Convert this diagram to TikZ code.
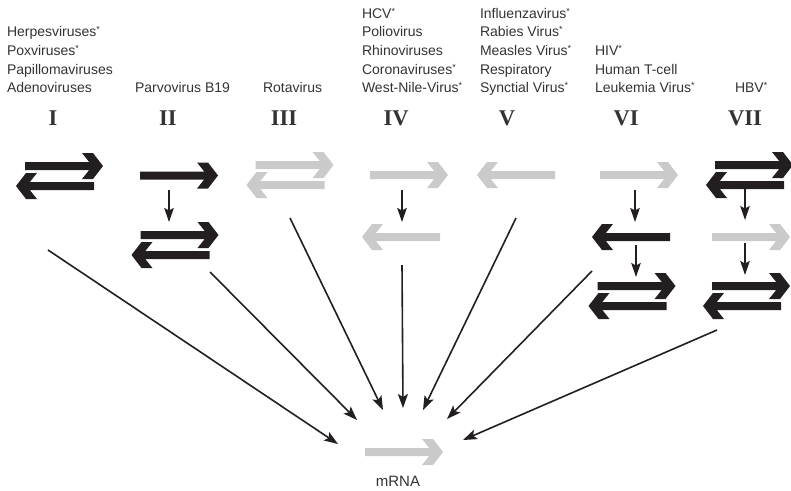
\documentclass[tikz,border=0pt]{standalone}
\usepackage{fontspec}
\setmainfont{Liberation Sans}
\newfontfamily\numfont{Liberation Serif}
\usetikzlibrary{arrows.meta}
\definecolor{blk}{HTML}{231F20}
\definecolor{gry}{HTML}{CACACA}
\definecolor{txt}{HTML}{333333}
\newcommand\vstar{\raisebox{4pt}{\fontsize{9}{9}\selectfont *}}
\tikzset{
  bigarr/.pic={\fill[pic actions] (39,0) -- (29,-13) -- (18,-13) -- (25.2,-4) -- (-39,-4) -- (-39,4) -- (25.2,4) -- (18,13) -- (29,13) -- cycle;},
  dblarr/.pic={
    \fill[pic actions, shift={(4.5,-10)}] (39,0) -- (29,-13) -- (18,-13) -- (25.2,-4) -- (-39,-4) -- (-39,4) -- (25.2,4) -- (18,13) -- (29,13) -- cycle;
    \fill[pic actions, shift={(-4.5,10)}, xscale=-1] (39,0) -- (29,-13) -- (18,-13) -- (25.2,-4) -- (-39,-4) -- (-39,4) -- (25.2,4) -- (18,13) -- (29,13) -- cycle;},
  elem/.style={inner sep=0pt, outer sep=0pt, minimum width=78pt, minimum height=26pt},
  delem/.style={inner sep=0pt, outer sep=0pt, minimum width=87pt, minimum height=46pt},
  lab/.style={inner sep=0pt, outer sep=0pt, anchor=base west, align=left, text=txt,
    font=\fontsize{14}{18.67}\selectfont},
  num/.style={inner sep=0pt, anchor=base, text=txt, font=\numfont\bfseries\fontsize{22.5}{22.5}\selectfont},
  dn/.style={draw=blk, line width=1.5pt, -{Stealth[length=14pt,width=9.5pt,inset=2.5pt]}},
  conn/.style={draw=blk, line width=1.6pt, -{Stealth[length=14pt,width=10pt,inset=3pt]}},
}
\begin{document}
\begin{tikzpicture}[x=1pt,y=-1pt]
\useasboundingbox (0,0) rectangle (791,490);
% texts (base anchor = baseline of last line)
\node[lab] (tI) at (7,92.7) {Herpesviruses\vstar\\Poxviruses\vstar\\Papillomaviruses\\Adenoviruses};
\node[lab] (tII) at (135,92.7) {Parvovirus B19};
\node[lab] (tIII) at (263,92.7) {Rotavirus};
\node[lab] (tIV) at (362,92.7) {HCV\vstar\\Poliovirus\\Rhinoviruses\\Coronaviruses\vstar\\West-Nile-Virus\vstar};
\node[lab] (tV) at (480,92.7) {Influenzavirus\vstar\\Rabies Virus\vstar\\Measles Virus\vstar\\Respiratory\\Synctial Virus\vstar};
\node[lab] (tVI) at (595,92.7) {HIV\vstar\\Human T-cell\\Leukemia Virus\vstar};
\node[lab] (tVII) at (735,92.7) {HBV\vstar};
% numerals
\node[num] (nI) at (53,125) {I};
\node[num] (nII) at (168,125) {II};
\node[num] (nIII) at (284,125) {III};
\node[num] (nIV) at (396,125) {IV};
\node[num] (nV) at (507,125) {V};
\node[num] (nVI) at (626,125) {VI};
\node[num] (nVII) at (745,125) {VII};
% elements
\node[delem] (DI) at (59.5,176) {};
\pic[fill=blk] at (DI.center) {dblarr};
\node[elem] (AII1) at (179,175.5) {};
\pic[fill=blk] at (AII1.center) {bigarr};
\node[delem] (DII2) at (175,245) {};
\pic[fill=blk] at (DII2.center) {dblarr};
\node[delem] (DIII) at (290,175) {};
\pic[fill=gry] at (DIII.center) {dblarr};
\node[elem] (AIV1) at (409,175) {};
\pic[fill=gry] at (AIV1.center) {bigarr};
\node[elem] (AIV2) at (401,237) {};
\pic[fill=gry, xscale=-1] at (AIV2.center) {bigarr};
\node[elem] (AV) at (516,175) {};
\pic[fill=gry, xscale=-1] at (AV.center) {bigarr};
\node[elem] (AVI1) at (639,175) {};
\pic[fill=gry] at (AVI1.center) {bigarr};
\node[elem] (AVI2) at (631,237) {};
\pic[fill=blk, xscale=-1] at (AVI2.center) {bigarr};
\node[delem] (DVI3) at (632,296) {};
\pic[fill=blk] at (DVI3.center) {dblarr};
\node[delem] (DVII1) at (749.5,175) {};
\pic[fill=blk] at (DVII1.center) {dblarr};
\node[elem] (AVII2) at (751,237) {};
\pic[fill=gry] at (AVII2.center) {bigarr};
\node[delem] (DVII3) at (746.5,296) {};
\pic[fill=blk] at (DVII3.center) {dblarr};
\node[elem] (M) at (404,452) {};
\pic[fill=gry] at (M.center) {bigarr};
\node[lab, anchor=base, font=\fontsize{15}{18}\selectfont] (mlab) at (398,486) {mRNA};
% vertical steps
\draw[dn] ([shift={(-10,14.5)}]AII1.center) -- ([shift={(-6,-23)}]DII2.center);
\draw[dn] ([shift={(-7,15)}]AIV1.center) -- ([shift={(1,-15)}]AIV2.center);
\draw[dn] ([shift={(-4,15)}]AVI1.center) -- ([shift={(4,-15)}]AVI2.center);
\draw[dn] ([shift={(5,8)}]AVI2.center) -- ([shift={(4,-19)}]DVI3.center);
\draw[dn] ([shift={(-4.5,13)}]DVII1.center) -- ([shift={(-6,-17)}]AVII2.center);
\draw[dn] ([shift={(-6,6)}]AVII2.center) -- ([shift={(-1.5,-21)}]DVII3.center);
% connectors to mRNA
\draw[conn] ([shift={(-11.5,74)}]DI.center) -- ([shift={(-66,-8)}]M.center);
\draw[conn] ([shift={(35,27)}]DII2.center) -- ([shift={(-47,-32)}]M.center);
\draw[conn] ([shift={(0,43)}]DIII.center) -- ([shift={(-21,-42)}]M.center);
\draw[conn] ([shift={(1,28)}]AIV2.center) -- ([shift={(-1,-44)}]M.center);
\draw[conn] ([shift={(0,43)}]AV.center) -- ([shift={(19,-42)}]M.center);
\draw[conn] ([shift={(-40,-25)}]DVI3.center) -- ([shift={(43,-33)}]M.center);
\draw[conn] ([shift={(-29.5,34)}]DVII3.center) -- ([shift={(59,-12)}]M.center);
\end{tikzpicture}
\end{document}
